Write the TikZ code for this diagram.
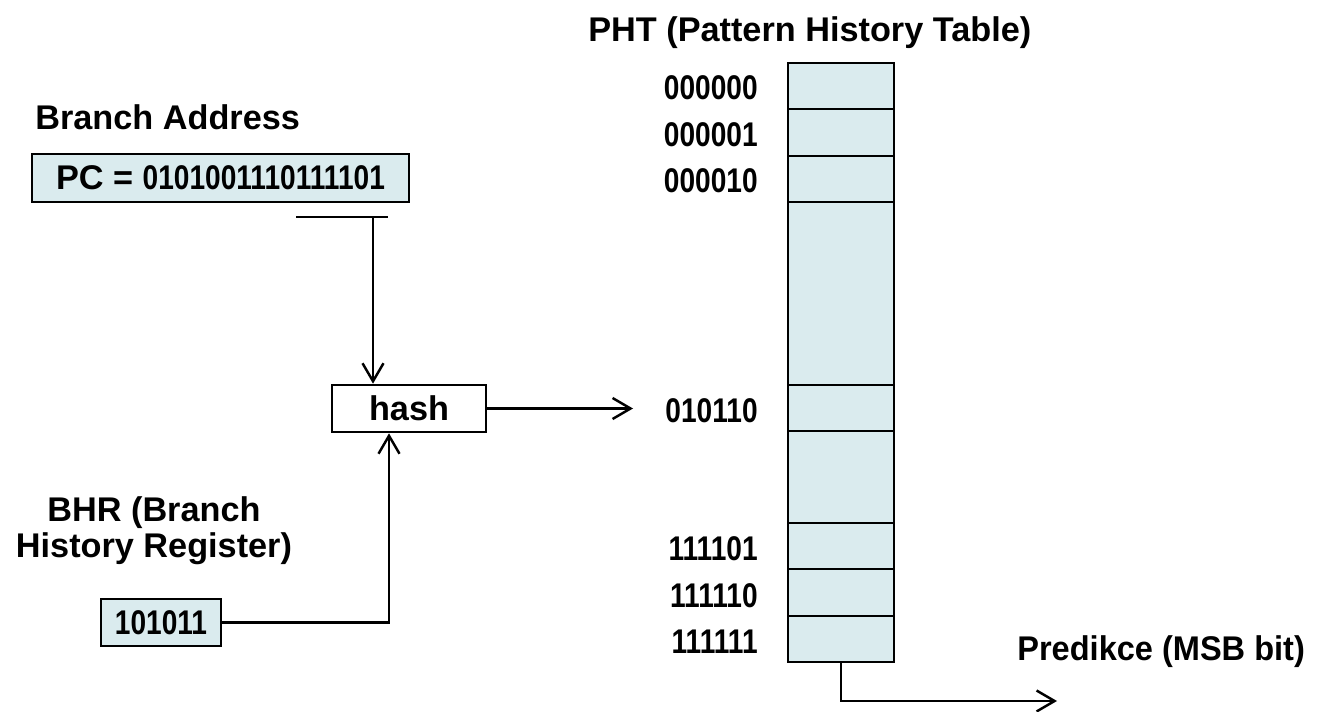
\documentclass[tikz,border=0pt]{standalone}
\usepackage{fontspec}
\setmainfont{Liberation Sans}
\newfontfamily\digfont{Liberation Sans}[FakeStretch=0.82]
\usetikzlibrary{arrows.meta}
\definecolor{cellblue}{HTML}{DAEBEE}

\begin{document}
\begin{tikzpicture}[x=0.02cm,y=-0.02cm,
    every node/.style={font=\fontsize{19.5}{20.5}\selectfont\bfseries},
    lbl/.style={inner sep=0pt},
    regbox/.style={draw,line width=1.5pt,fill=cellblue,inner sep=0pt},
    cell/.style={draw,line width=1.5pt,fill=cellblue},
    wire/.style={line width=1.4pt},
    arr/.style={wire,-{Straight Barb[length=3.6mm,width=4.2mm,line width=1.4pt]}}]
  \useasboundingbox (0,0) rectangle (1321,712);

  %% titles
  \node[lbl,anchor=base west] (phttitle) at (588,42) {PHT (Pattern History Table)};
  \node[lbl,anchor=base west] (addrtitle) at (35,130) {Branch Address};
  \node[lbl,anchor=north,align=center] (bhrtitle) at (154,496) {BHR (Branch\\History Register)};
  \node[lbl,anchor=base west,font=\fontsize{19.5}{20.5}\selectfont\bfseries\addfontfeature{FakeStretch=0.95}] (predtitle) at (1017,660) {Predikce (MSB bit)};

  %% registers
  \node[regbox,minimum width=7.54cm,minimum height=0.96cm] (pc) at (220.5,178)
    {PC = {\digfont 0101001110111101}};
  \node[regbox,minimum width=2.4cm,minimum height=0.94cm] (bhr) at (161,622.5)
    {\digfont 101011};
  \node[regbox,fill=white,minimum width=3.08cm,minimum height=0.94cm] (hash) at (409,408.5) {hash};

  %% pattern history table
  \foreach \t/\b in {63/109,109/156,156/202,202/385,385/431,431/523,523/569,569/616,616/662}
    \draw[cell] (788,\t) rectangle (894,\b);
  \foreach \y/\idx in {100/000000,147/000001,193/000010,422/010110,560/111101,607/111110,653/111111}
    \node[lbl,anchor=base east] (row\idx) at (758,\y) {\digfont\idx};

  %% connectors
  \coordinate (tapl) at (296,217);
  \coordinate (tapr) at (388,217);
  \coordinate (tap) at (373,217);
  \coordinate (hashto) at (633,408.5);
  \coordinate (phtout) at (841,662);
  \coordinate (predto) at (1057,701);
  \draw[wire] (tapl) -- (tapr);
  \draw[arr] (tap) -- (tap |- hash.north);
  \draw[arr] (bhr.east) -| ([xshift=-0.4cm]hash.south);
  \draw[arr] (hash.east) -- (hashto);
  \draw[arr] (phtout) |- (predto);
\end{tikzpicture}
\end{document}
